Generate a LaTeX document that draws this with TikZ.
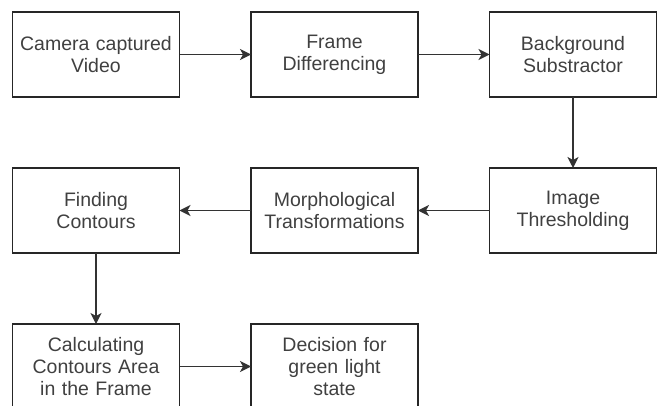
\documentclass[tikz,border=0pt]{standalone}
\usepackage{fontspec}
\setmainfont{Liberation Sans}
\usetikzlibrary{arrows.meta, positioning}

\begin{document}
\begin{tikzpicture}[node distance=71pt and 71.5pt,
        process/.style={rectangle, draw=black!85, line width=1.2pt, outer sep=0pt, minimum width=167pt, minimum height=85pt, text width=160pt, align=center, font=\fontsize{19.5}{22}\selectfont, text=black!75},
        arrow/.style={-{Stealth[length=11pt, width=11pt, inset=3pt]}, line width=1.4pt, black!80}]

        \useasboundingbox (0,0) rectangle (659pt,405pt);

        % Primera fila
        \node[process] (camera) at (96pt,350.5pt) {Camera captured \\ Video};
        \node[process, right=of camera] (framediff) {Frame \\ Differencing};
        \node[process, right=of framediff] (bgsub) {Background \\ Substractor};

        % Segunda fila (de derecha a izquierda)
        \node[process, below=of bgsub] (thresh) {Image \\ Thresholding};
        \node[process, left=of thresh] (morph) {Morphological \\ Transformations};
        \node[process, left=of morph] (contours) {Finding \\ Contours};

        % Tercera fila
        \node[process, below=of contours] (area) {Calculating \\ Contours Area \\ in the Frame};
        \node[process, right=of area] (decision) {Decision for \\ green light \\ state};

        % Flechas
        \draw[arrow] (camera) -- (framediff);
        \draw[arrow] (framediff) -- (bgsub);
        \draw[arrow] (bgsub) -- (thresh);
        \draw[arrow] (thresh) -- (morph);
        \draw[arrow] (morph) -- (contours);
        \draw[arrow] (contours) -- (area);
        \draw[arrow] (area) -- (decision);

    \end{tikzpicture}
\end{document}
